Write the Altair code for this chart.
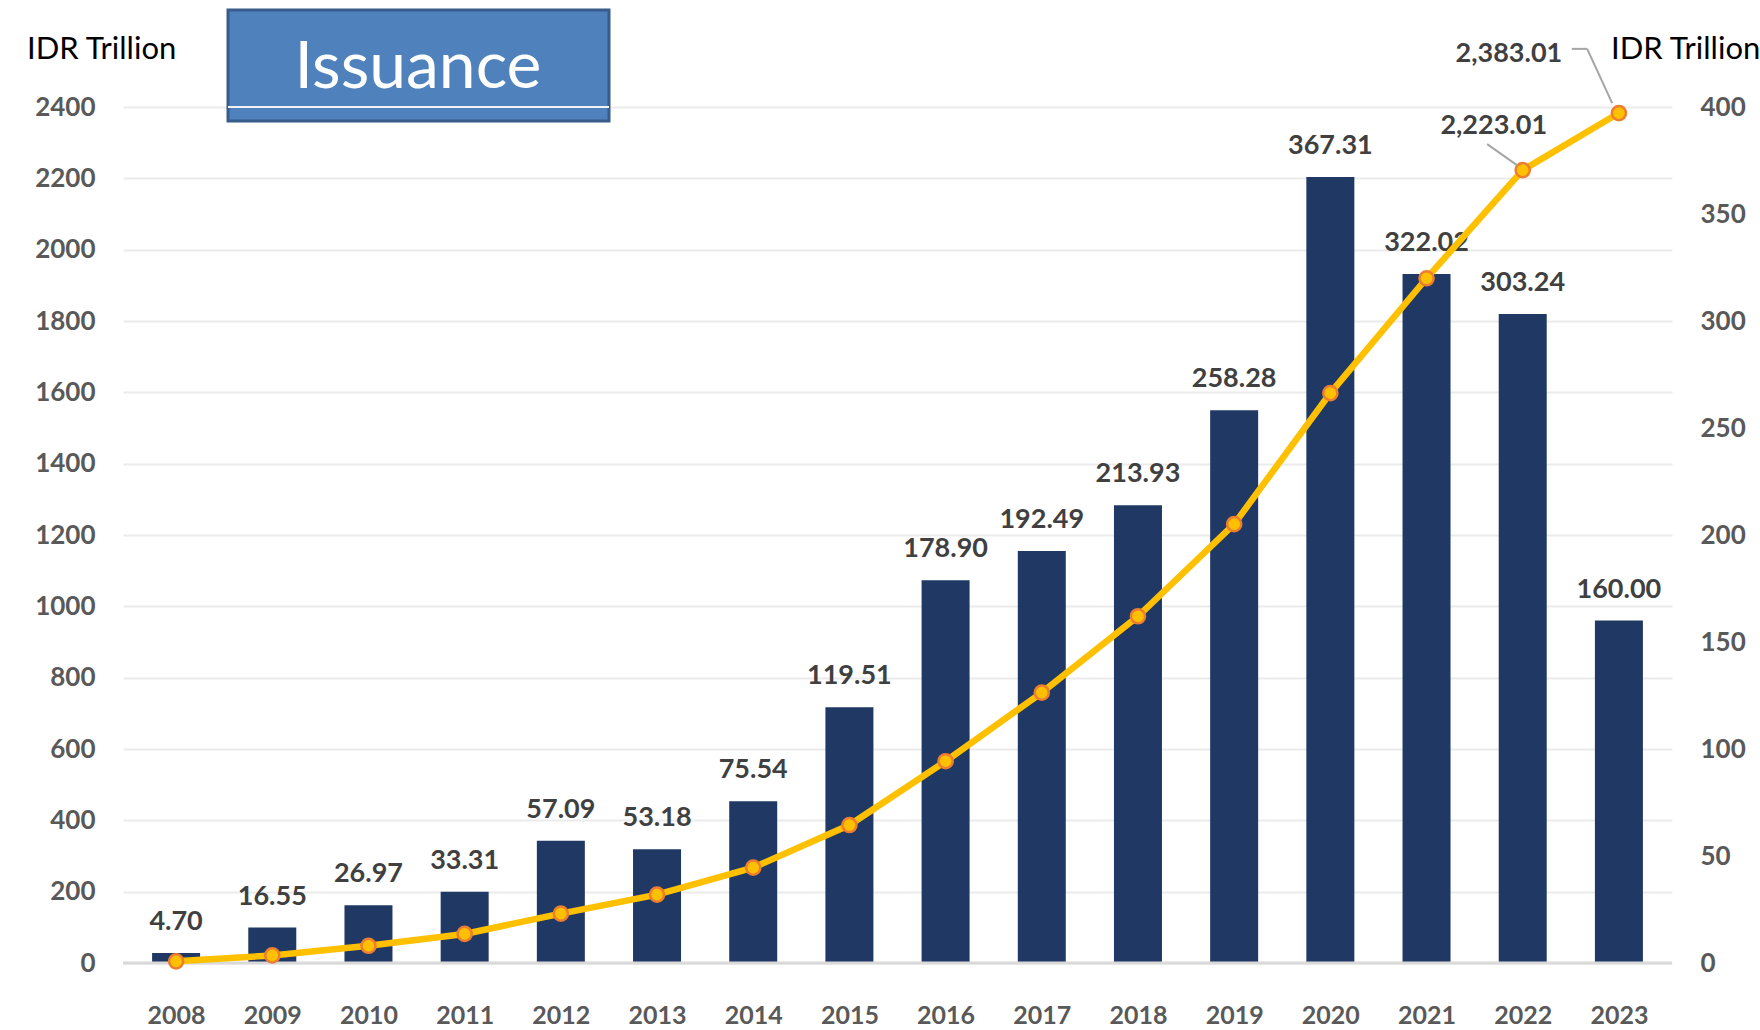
import altair as alt
import pandas as pd

years = [2008, 2009, 2010, 2011, 2012, 2013, 2014, 2015,
         2016, 2017, 2018, 2019, 2020, 2021, 2022, 2023]
issuance = [4.70, 16.55, 26.97, 33.31, 57.09, 53.18, 75.54, 119.51,
            178.90, 192.49, 213.93, 258.28, 367.31, 322.02, 303.24, 160.00]
cumulative = [4.70, 21.25, 48.22, 81.53, 138.62, 191.80, 267.34, 386.85,
              565.75, 758.24, 972.17, 1230.45, 1597.76, 1919.78, 2223.01, 2383.01]
left_ticks = [0, 200, 400, 600, 800, 1000, 1200, 1400, 1600, 1800, 2000, 2200, 2400]
right_ticks = [0, 50, 100, 150, 200, 250, 300, 350, 400]

df = pd.DataFrame({"year": years, "issuance": issuance, "cum": cumulative})

W, H = 1549, 856
FONT = "Lato"
LABEL_COLOR = "#404040"
AXIS_COLOR = "#595959"

xs = alt.Scale(domain=[2007.5, 2023.5], nice=False, zero=False)
x_axis = alt.Axis(values=years, format="d", title=None, labelFont=FONT, labelFontWeight="bold",
                  labelFontSize=25, labelColor=AXIS_COLOR, labelPadding=40, domain=False,
                  ticks=False, grid=False)


def X(field="year"):
    return alt.X(f"{field}:Q", scale=xs, axis=x_axis)


yr_scale = alt.Scale(domain=[0, 400], nice=False)
yl_scale = alt.Scale(domain=[0, 2400], nice=False)
yr_axis = alt.Axis(orient="right", values=right_ticks, format="d", title=None, labelFont=FONT,
                   labelFontWeight="bold", labelFontSize=26, labelColor=AXIS_COLOR,
                   labelPadding=28, domain=False, ticks=False, grid=False)
yl_axis = alt.Axis(orient="left", values=left_ticks, format="d", title=None, labelFont=FONT,
                   labelFontWeight="bold", labelFontSize=26, labelColor=AXIS_COLOR,
                   labelPadding=28, domain=False, ticks=False, grid=True,
                   gridColor="#EBEBEB", gridWidth=2)


def YR(field="issuance"):
    return alt.Y(f"{field}:Q", scale=yr_scale, axis=yr_axis)


def YL(field="cum"):
    return alt.Y(f"{field}:Q", scale=yl_scale, axis=yl_axis)


# bars on right axis
bars = alt.Chart(df).mark_bar(size=48, color="#203864").encode(x=X(), y=YR())
bar_text = alt.Chart(df).mark_text(font=FONT, fontWeight="bold", fontSize=27,
                                   color=LABEL_COLOR, baseline="alphabetic", dy=-23).encode(
    x=X(), y=YR(), text=alt.Text("issuance:Q", format=".2f"),
)
bar_layer = alt.layer(bars, bar_text)

# cumulative line on left axis
baseline = alt.Chart(pd.DataFrame({"year": [2008], "v": [0]})).mark_rule(
    color="#D9D9D9", strokeWidth=3).encode(y=YL("v"))
line = alt.Chart(df).mark_line(color="#FFC000", strokeWidth=6.5).encode(x=X(), y=YL())
points = alt.Chart(df).mark_point(shape="circle", filled=True, size=200, fill="#FFC000",
                                  stroke="#ED7D31", strokeWidth=2.5, opacity=1).encode(
    x=X(), y=YL())

lbl_base = alt.Chart(df).transform_calculate(lbl="format(datum.cum, ',.2f')")
lbl22 = lbl_base.transform_filter("datum.year == 2022").mark_text(
    font=FONT, fontWeight="bold", fontSize=27, color=LABEL_COLOR, dx=-29, dy=-44
).encode(x=X(), y=YL(), text="lbl:N")
lbl23 = lbl_base.transform_filter("datum.year == 2023").mark_text(
    font=FONT, fontWeight="bold", fontSize=27, color=LABEL_COLOR, dx=-110, dy=-59
).encode(x=X(), y=YL(), text="lbl:N")

# leader lines (annotation geometry)
leaders = pd.DataFrame({
    "x1": [2021.63, 2022.51, 2022.67],
    "y1": [2296, 2563, 2563],
    "x2": [2021.94, 2022.67, 2022.93],
    "y2": [2237, 2563, 2411],
})
leader = alt.Chart(leaders).mark_rule(color="#A5A5A5", strokeWidth=2).encode(
    x=X("x1"), x2="x2:Q", y=YL("y1"), y2="y2:Q",
)

line_layer = alt.layer(baseline, line, points, leader, lbl22, lbl23)

# title box and axis unit labels
one = pd.DataFrame({"t": ["Issuance"]})
box = alt.Chart(one).mark_rect(fill="#4F81BD", stroke="#385D8A", strokeWidth=3).encode(
    x=alt.value(105), x2=alt.value(486), y=alt.value(-97), y2=alt.value(14)
)
box_line = alt.Chart(one).mark_rule(color="#F2F2F2", strokeWidth=2).encode(
    x=alt.value(105), x2=alt.value(486), y=alt.value(0)
)
box_text = alt.Chart(one).mark_text(font=FONT, fontSize=66, color="white",
                                    align="center", baseline="middle").encode(
    x=alt.value(295), y=alt.value(-39), text="t:N"
)
unit_l = alt.Chart(pd.DataFrame({"t": ["IDR Trillion"]})).mark_text(
    font=FONT, fontSize=31, color="black", align="left", baseline="middle"
).encode(x=alt.value(-96), y=alt.value(-57), text="t:N")
unit_r = alt.Chart(pd.DataFrame({"t": ["IDR Trillion"]})).mark_text(
    font=FONT, fontSize=31, color="black", align="left", baseline="middle"
).encode(x=alt.value(1488), y=alt.value(-57), text="t:N")

chart = alt.layer(
    bar_layer, line_layer, box, box_line, box_text, unit_l, unit_r
).resolve_scale(y="independent").properties(
    width=W, height=H,
    autosize=alt.AutoSizeParams(type="none"),
    padding={"left": 123, "top": 107, "right": 88, "bottom": 67},
    background="white",
).configure_view(stroke=None)

chart.save("out.html", embed_options={"renderer": "svg", "actions": False})
